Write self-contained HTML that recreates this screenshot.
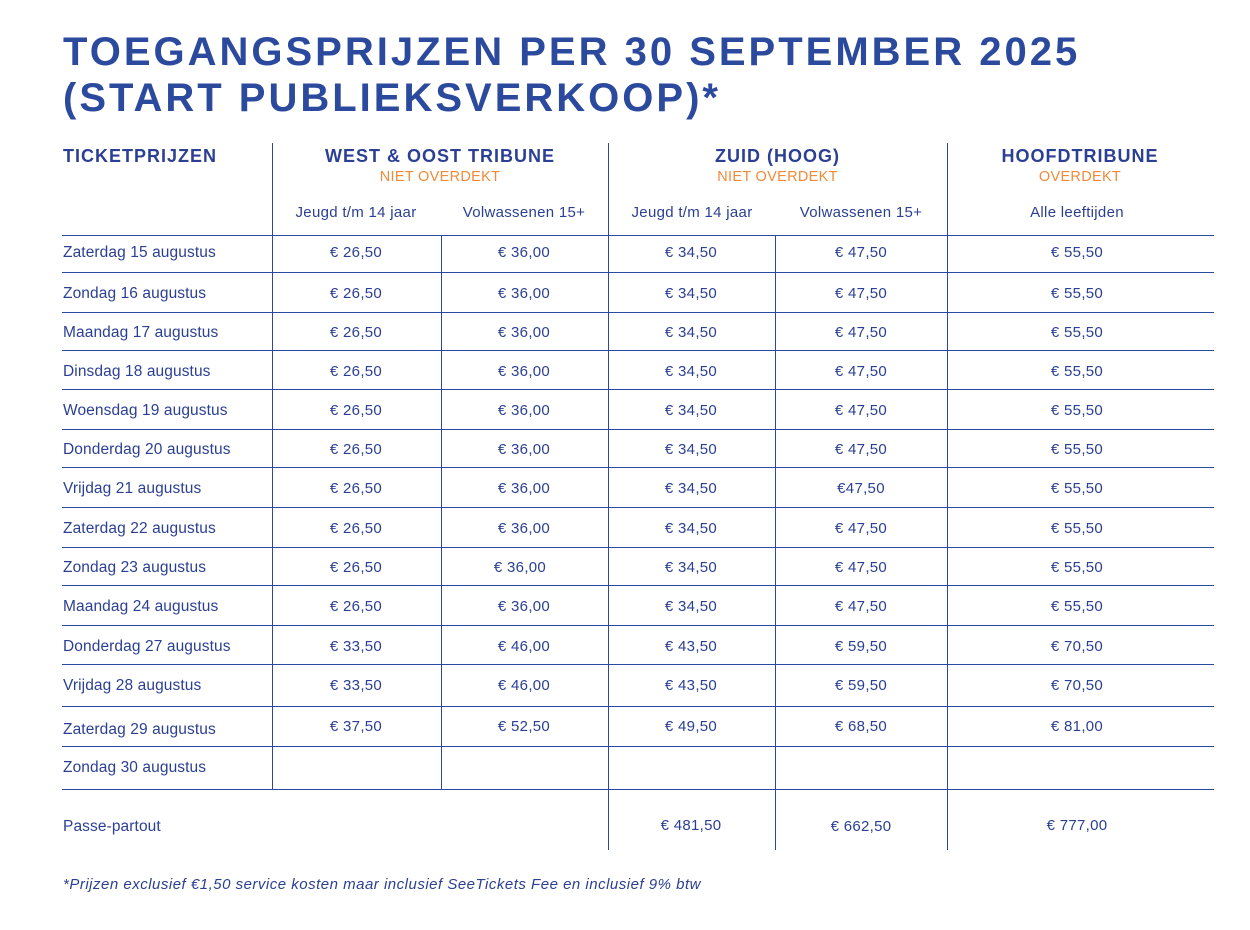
<!DOCTYPE html>
<html><head><meta charset="utf-8"><style>
body{margin:0;width:1250px;height:930px;background:#fff;position:relative;overflow:hidden;font-family:"Liberation Sans",sans-serif;color:#2b3f93}
.t{position:absolute;left:63px;font-weight:bold;font-size:40px;color:#2b4a9e;letter-spacing:3px;line-height:46px}
.h,.v{position:absolute;background:#2b48a0}
.h{height:1.3px;left:62px;width:1152px}
.v{width:1.3px}
.r{position:absolute;left:0;width:1250px;height:20px;line-height:20px;font-size:15px}
.r b{position:absolute;left:63px;font-weight:normal;font-size:15.5px;letter-spacing:0.1px}
.r i{position:absolute;font-style:normal;width:160px;text-align:center;letter-spacing:0.3px}
.c1{left:276px}.c2{left:444px}.c3{left:611px}.c4{left:781px}.c5{left:997px}
.hd{position:absolute;font-weight:bold;font-size:18px;text-align:center;line-height:20px;letter-spacing:1px}
.or{position:absolute;color:#f08a3a;font-size:14.5px;text-align:center;letter-spacing:0.3px}
.sub{position:absolute;font-size:15px;text-align:center;width:170px;letter-spacing:0.3px}
</style></head><body>
<div class="t" style="top:29px">TOEGANGSPRIJZEN PER 30 SEPTEMBER 2025</div>
<div class="t" style="top:75px">(START PUBLIEKSVERKOOP)*</div>

<div class="hd" style="left:63px;top:146px;text-align:left">TICKETPRIJZEN</div>
<div class="hd" style="left:272px;width:336px;top:146px">WEST &amp; OOST TRIBUNE</div>
<div class="or" style="left:272px;width:336px;top:169px">NIET OVERDEKT</div>
<div class="hd" style="left:608px;width:339px;top:146px">ZUID (HOOG)</div>
<div class="or" style="left:608px;width:339px;top:169px">NIET OVERDEKT</div>
<div class="hd" style="left:947px;width:266px;top:146px">HOOFDTRIBUNE</div>
<div class="or" style="left:947px;width:266px;top:169px">OVERDEKT</div>
<div class="sub" style="left:271px;top:204px">Jeugd t/m 14 jaar</div>
<div class="sub" style="left:439px;top:204px">Volwassenen 15+</div>
<div class="sub" style="left:607px;top:204px">Jeugd t/m 14 jaar</div>
<div class="sub" style="left:776px;top:204px">Volwassenen 15+</div>
<div class="sub" style="left:992px;top:204px">Alle leeftijden</div>

<div class="h" style="top:235px"></div><div class="h" style="top:272px"></div><div class="h" style="top:312px"></div><div class="h" style="top:350px"></div><div class="h" style="top:389px"></div><div class="h" style="top:429px"></div><div class="h" style="top:467px"></div><div class="h" style="top:507px"></div><div class="h" style="top:547px"></div><div class="h" style="top:585px"></div><div class="h" style="top:625px"></div><div class="h" style="top:664px"></div><div class="h" style="top:706px"></div><div class="h" style="top:746px"></div><div class="h" style="top:789px"></div>

<div class="v" style="left:272px;top:143px;height:646px"></div>
<div class="v" style="left:441px;top:235px;height:554px"></div>
<div class="v" style="left:608px;top:143px;height:707px"></div>
<div class="v" style="left:775px;top:235px;height:615px"></div>
<div class="v" style="left:947px;top:143px;height:707px"></div>

<div class="r" style="top:243px"><b>Zaterdag 15 augustus</b><i class="c1">€ 26,50</i><i class="c2">€ 36,00</i><i class="c3">€ 34,50</i><i class="c4">€ 47,50</i><i class="c5">€ 55,50</i></div>
<div class="r" style="top:284px"><b>Zondag 16 augustus</b><i class="c1">€ 26,50</i><i class="c2">€ 36,00</i><i class="c3">€ 34,50</i><i class="c4">€ 47,50</i><i class="c5">€ 55,50</i></div>
<div class="r" style="top:323px"><b>Maandag 17 augustus</b><i class="c1">€ 26,50</i><i class="c2">€ 36,00</i><i class="c3">€ 34,50</i><i class="c4">€ 47,50</i><i class="c5">€ 55,50</i></div>
<div class="r" style="top:362px"><b>Dinsdag 18 augustus</b><i class="c1">€ 26,50</i><i class="c2">€ 36,00</i><i class="c3">€ 34,50</i><i class="c4">€ 47,50</i><i class="c5">€ 55,50</i></div>
<div class="r" style="top:401px"><b>Woensdag 19 augustus</b><i class="c1">€ 26,50</i><i class="c2">€ 36,00</i><i class="c3">€ 34,50</i><i class="c4">€ 47,50</i><i class="c5">€ 55,50</i></div>
<div class="r" style="top:440px"><b>Donderdag 20 augustus</b><i class="c1">€ 26,50</i><i class="c2">€ 36,00</i><i class="c3">€ 34,50</i><i class="c4">€ 47,50</i><i class="c5">€ 55,50</i></div>
<div class="r" style="top:479px"><b>Vrijdag 21 augustus</b><i class="c1">€ 26,50</i><i class="c2">€ 36,00</i><i class="c3">€ 34,50</i><i class="c4">€47,50</i><i class="c5">€ 55,50</i></div>
<div class="r" style="top:519px"><b>Zaterdag 22 augustus</b><i class="c1">€ 26,50</i><i class="c2">€ 36,00</i><i class="c3">€ 34,50</i><i class="c4">€ 47,50</i><i class="c5">€ 55,50</i></div>
<div class="r" style="top:558px"><b>Zondag 23 augustus</b><i class="c1">€ 26,50</i><i class="c2" style="left:440px">€ 36,00</i><i class="c3">€ 34,50</i><i class="c4">€ 47,50</i><i class="c5">€ 55,50</i></div>
<div class="r" style="top:597px"><b>Maandag 24 augustus</b><i class="c1">€ 26,50</i><i class="c2">€ 36,00</i><i class="c3">€ 34,50</i><i class="c4">€ 47,50</i><i class="c5">€ 55,50</i></div>
<div class="r" style="top:637px"><b>Donderdag 27 augustus</b><i class="c1">€ 33,50</i><i class="c2">€ 46,00</i><i class="c3">€ 43,50</i><i class="c4">€ 59,50</i><i class="c5">€ 70,50</i></div>
<div class="r" style="top:676px"><b>Vrijdag 28 augustus</b><i class="c1">€ 33,50</i><i class="c2">€ 46,00</i><i class="c3">€ 43,50</i><i class="c4">€ 59,50</i><i class="c5">€ 70,50</i></div>
<div class="r" style="top:720px"><b>Zaterdag 29 augustus</b><i class="c1" style="top:-3px">€ 37,50</i><i class="c2" style="top:-3px">€ 52,50</i><i class="c3" style="top:-3px">€ 49,50</i><i class="c4" style="top:-3px">€ 68,50</i><i class="c5" style="top:-3px">€ 81,00</i></div>
<div class="r" style="top:758px"><b>Zondag 30 augustus</b></div>
<div class="r" style="top:817px"><b>Passe-partout</b><i class="c3" style="top:-1px">€ 481,50</i><i class="c4">€ 662,50</i><i class="c5" style="top:-1px">€ 777,00</i></div>

<div style="position:absolute;left:63px;top:876px;font-size:15px;letter-spacing:0.5px;font-style:italic">*Prijzen exclusief €1,50 service kosten maar inclusief SeeTickets Fee en inclusief 9% btw</div>
</body></html>
